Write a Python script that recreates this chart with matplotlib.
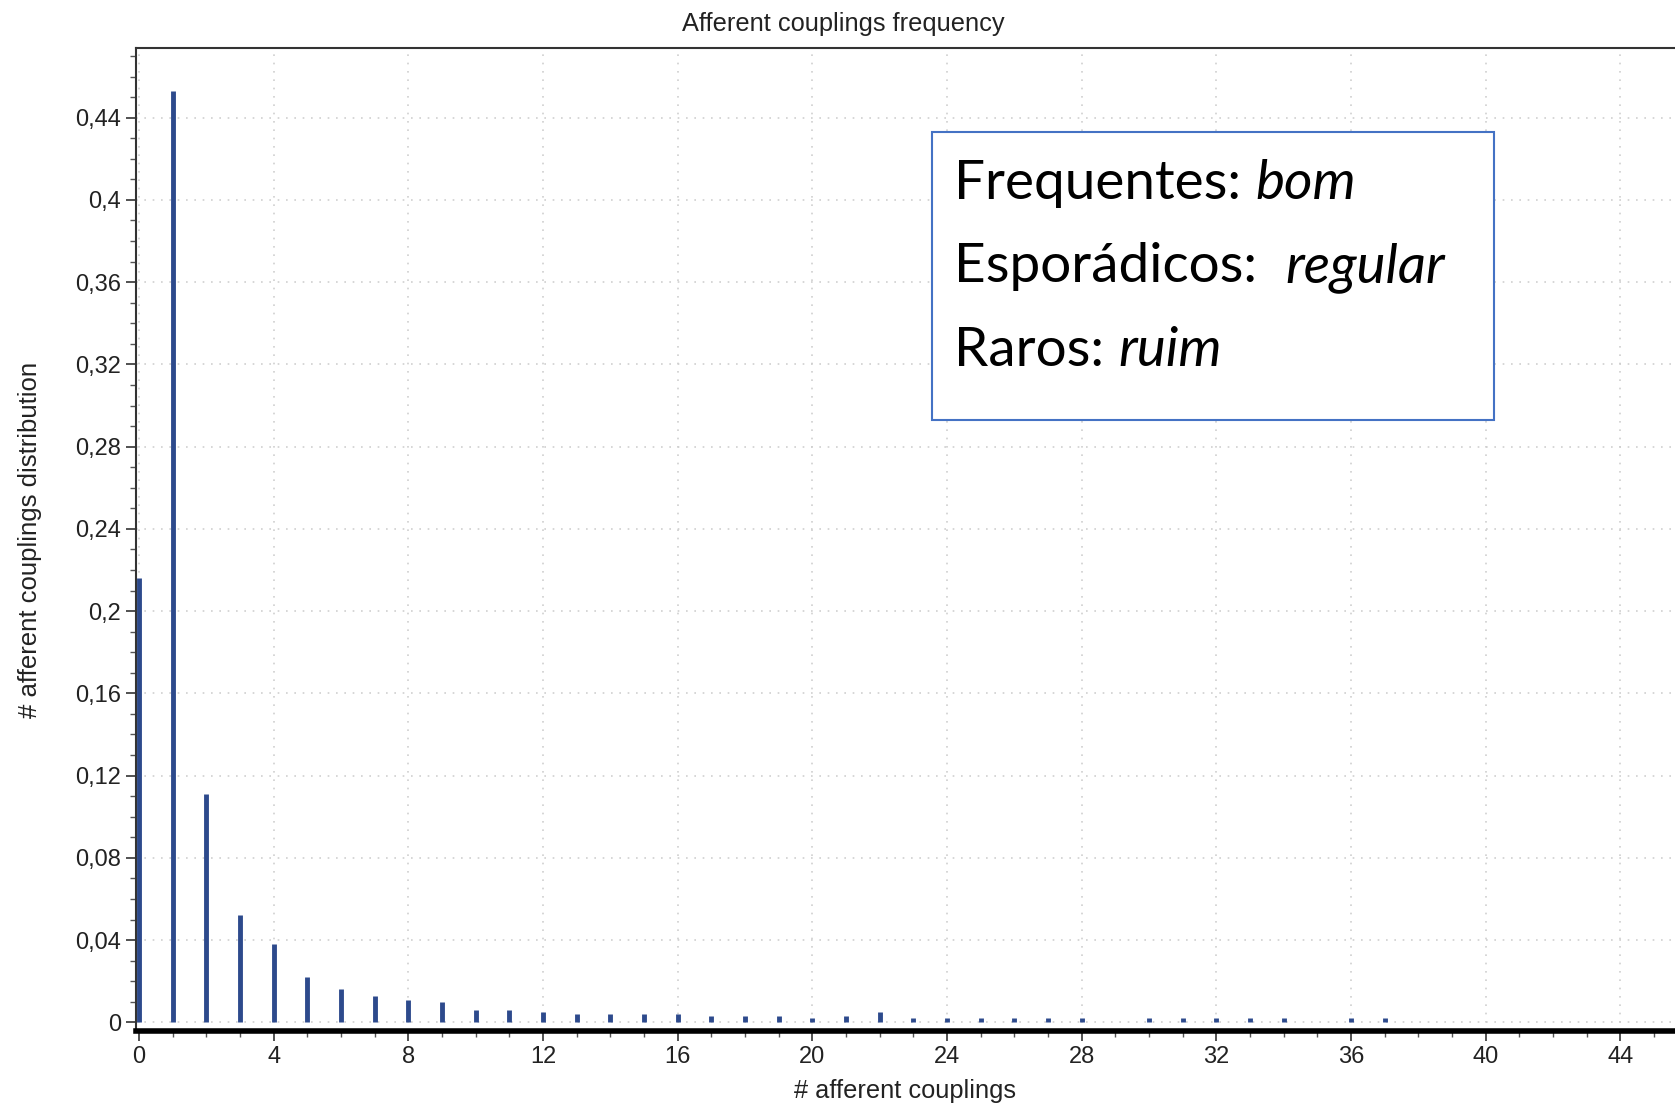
import numpy as np
import matplotlib.pyplot as plt
from matplotlib.ticker import MultipleLocator, FuncFormatter

# afferent couplings count -> relative frequency
couplings = np.arange(0, 38)
freq = [0.216, 0.453, 0.111, 0.052, 0.038, 0.022, 0.016, 0.013, 0.011, 0.010,
        0.006, 0.006, 0.005, 0.004, 0.004, 0.004, 0.004, 0.003, 0.003, 0.003,
        0.002, 0.003, 0.005, 0.002, 0.002, 0.002, 0.002, 0.002, 0.002, 0.0,
        0.002, 0.002, 0.002, 0.002, 0.002, 0.0, 0.002, 0.002]

x_ticks = np.arange(0, 48, 4)
y_ticks = np.arange(0, 0.45, 0.04)

note_lines = [("Frequentes: ", "bom"), ("Esporádicos:  ", "regular"), ("Raros: ", "ruim")]

plt.rcParams['font.family'] = ['Liberation Sans', 'DejaVu Sans']

fig = plt.figure(figsize=(16.75, 11.03), dpi=100)
ax = fig.add_axes([0.081, 0.0653, 0.919, 0.8912])

ax.vlines(couplings, 0, freq, color='#2d4a8c', linewidth=3.5)

ax.set_xlim(-0.095, 45.62)
ax.set_ylim(-0.0042, 0.4739)

ax.set_xticks(x_ticks)
ax.set_yticks(y_ticks)
ax.xaxis.set_minor_locator(MultipleLocator(1))
ax.yaxis.set_minor_locator(MultipleLocator(0.01))
ax.yaxis.set_major_formatter(FuncFormatter(lambda v, p: f"{round(v, 2):g}".replace('.', ',')))

ax.tick_params(which='major', length=7, width=1.2, color='#333333', labelsize=17, labelcolor='#222222')
ax.tick_params(which='minor', length=4, width=1.0, color='#555555')

ax.grid(True, which='major', linestyle=(0, (1, 4)), color='#cfcfcf', linewidth=1.2)
ax.set_axisbelow(True)

for side in ['top', 'left']:
    ax.spines[side].set_color('#333333')
    ax.spines[side].set_linewidth(1.5)
ax.spines['right'].set_visible(False)
ax.spines['bottom'].set_color('black')
ax.spines['bottom'].set_linewidth(4)

# the original plot was cropped on the right, so the title sits left of centre
ax.set_title("Afferent couplings frequency", fontsize=18.3, color='#222222', pad=12, x=0.4595)
ax.set_xlabel("# afferent couplings", fontsize=18.3, color='#222222', labelpad=8)
ax.set_ylabel("# afferent couplings distribution", fontsize=18.5, color='#222222', labelpad=24)

# annotation box
box = plt.Rectangle((932 / 1675, 1 - 420 / 1103), (1494 - 932) / 1675, (420 - 132) / 1103,
                    transform=fig.transFigure, fill=True, facecolor='white',
                    edgecolor='#4472c4', linewidth=1.5, zorder=5)
fig.patches.append(box)

baselines = [199, 282, 366]
for (plain, ital), yb in zip(note_lines, baselines):
    t = fig.text(954 / 1675, 1 - yb / 1103, plain, fontsize=39.5, family='Lato',
                 va='baseline', ha='left', zorder=6)
    fig.canvas.draw()
    bb = t.get_window_extent()
    fig.text(bb.x1 / 1675, 1 - yb / 1103, ital, fontsize=39.5, family='Lato',
             style='italic', va='baseline', ha='left', zorder=6)

fig.savefig('out.png', dpi=100)
